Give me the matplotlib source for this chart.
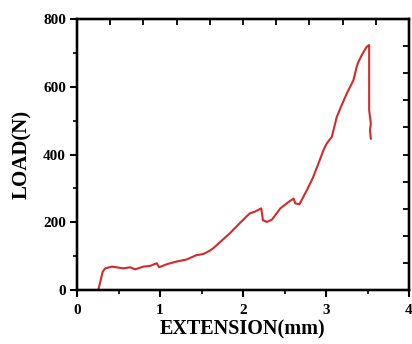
import matplotlib
matplotlib.use("Agg")
import matplotlib.pyplot as plt
from matplotlib.ticker import MultipleLocator

extension_mm = [0.257, 0.31, 0.34, 0.42, 0.56, 0.64, 0.70, 0.80, 0.88, 0.96, 0.99, 1.08, 1.20,
                1.32, 1.44, 1.52, 1.60, 1.64, 1.84, 1.96, 2.08, 2.14, 2.22, 2.24, 2.29, 2.35,
                2.45, 2.55, 2.61, 2.63, 2.68, 2.77, 2.84, 2.91, 2.97, 3.01, 3.07, 3.13, 3.19,
                3.25, 3.33, 3.37, 3.39, 3.43, 3.49, 3.52, 3.52, 3.54, 3.53, 3.54]
load_n = [0, 54, 64, 69, 64, 67, 61, 69, 71, 79, 67, 76, 84,
          90, 103, 106, 116, 123, 167, 197, 226, 231, 241, 206, 201, 208,
          241, 260, 270, 256, 253, 295, 330, 374, 413, 433, 452, 511, 546,
          580, 619, 659, 673, 693, 718, 723, 531, 492, 470, 447]

x_ticks = [0, 1, 2, 3, 4]
y_ticks = [0, 200, 400, 600, 800]

plt.rcParams['font.family'] = ['Liberation Serif', 'DejaVu Serif']

fig = plt.figure(figsize=(4.12, 3.44), dpi=100)
ax = fig.add_axes([77/412, 54/344, 332/412, 271/344])
ax.plot(extension_mm, load_n, color='#d42a2a', lw=1.5)
ax.set_xlim(0, 4)
ax.set_ylim(0, 800)
ax.set_xticks(x_ticks)
ax.set_yticks(y_ticks)
ax.xaxis.set_minor_locator(MultipleLocator(0.5))
ax.yaxis.set_minor_locator(MultipleLocator(100))
ax.tick_params(which='major', direction='out', length=5, width=1.5, labelsize=11, pad=3)
ax.tick_params(axis='x', which='major', pad=5)
ax.tick_params(which='minor', direction='out', length=3, width=1.2)
for lab in ax.get_xticklabels() + ax.get_yticklabels():
    lab.set_fontweight('bold')
for s in ax.spines.values():
    s.set_linewidth(1.6)

# top and right inward ticks
axt = ax.twiny()
axt.set_xlim(0, 4)
axt.xaxis.set_major_locator(MultipleLocator(0.4))
axt.tick_params(axis='x', direction='in', length=4, width=1.3, labeltop=False)
axr = ax.twinx()
axr.set_ylim(0, 800)
axr.yaxis.set_major_locator(MultipleLocator(80))
axr.tick_params(axis='y', direction='in', length=4, width=1.3, labelright=False)
for a in (axt, axr):
    for s in a.spines.values():
        s.set_linewidth(1.6)

ax.set_xlabel('EXTENSION(mm)', fontsize=14.5, fontweight='bold', labelpad=2)
ax.set_ylabel('LOAD(N)', fontsize=15, fontweight='bold', labelpad=8)

fig.savefig('out.png', dpi=100)
